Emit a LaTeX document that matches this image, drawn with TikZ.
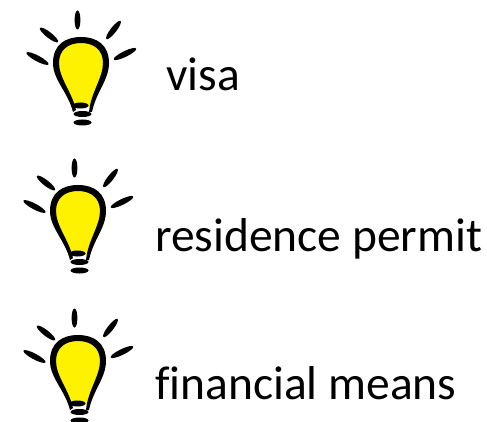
\documentclass[tikz,border=0pt]{standalone}
\usepackage{fontspec}
\setmainfont[Ligatures=NoCommon]{Carlito}
\tikzset{
  label text/.style={anchor=base west,inner sep=0pt,font=\fontsize{47.5}{47.5}\selectfont,text=black},
  pics/bulb/.style={code={
    % glass, in reference pixels relative to the first bulb
    \fill[yellow] (57,63) .. controls (57,47) and (67,41) .. (81,41) .. controls (95,41) and (105,47) .. (105,63) .. controls (105,78) and (94,90) .. (90,107) -- (74,107) .. controls (70,90) and (57,78) .. (57,63) -- cycle;
    \fill[black] (53,63) .. controls (53,45) and (65,37) .. (81,37) .. controls (97,37) and (109,45) .. (109,63) .. controls (109,80) and (96,92) .. (92,112) -- (89,112) .. controls (91,92) and (103,78) .. (103,63) .. controls (103,50) and (94,43) .. (81,43) .. controls (68,43) and (59,50) .. (59,63) .. controls (59,78) and (72,92) .. (76,110) -- (73,112) .. controls (68,92) and (53,80) .. (53,63) -- cycle;
    \fill[black] (80.5,105.5) ellipse [x radius=8, y radius=3];
    \fill[black] (82.5,114) ellipse [x radius=9, y radius=3];
    \fill[black] (82.5,122.5) ellipse [x radius=9, y radius=3];
    \fill[black] (77.5,20) ellipse [x radius=2.9, y radius=9.5];
    \fill[black,rotate around={-38:(49,35)}] (49,35) ellipse [x radius=11.5, y radius=2.9];
    \fill[black,rotate around={-28:(37.5,58.5)}] (37.5,58.5) ellipse [x radius=12.5, y radius=2.9];
    \fill[black,rotate around={52:(113.5,30)}] (113.5,30) ellipse [x radius=11.5, y radius=2.9];
    \fill[black,rotate around={26:(125,54)}] (125,54) ellipse [x radius=12.5, y radius=2.9];
  }}
}
\begin{document}
\begin{tikzpicture}[x=1pt,y=-1pt]
\useasboundingbox (0,0) rectangle (487,422);
\fill[white] (0,0) rectangle (487,422);
\pic at (0,0) {bulb};
\pic at (-3,148) {bulb};
\pic at (-3,298) {bulb};
\node[label text] (visa) at (166,91) {visa};
\node[label text] (residence) at (155,251) {residence permit};
\node[label text] (financial) at (155,399) {financial means};
\end{tikzpicture}
\end{document}
